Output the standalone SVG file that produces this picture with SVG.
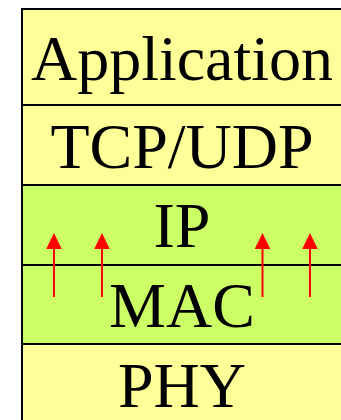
<svg xmlns="http://www.w3.org/2000/svg" width="341" height="420" viewBox="0 0 341 420">
  <style>
    .layer { stroke: #000; stroke-width: 2; }
    .upper { fill: #FFFF99; }
    .lower { fill: #CCFF66; }
    .label { font-family: "Liberation Serif", "Times New Roman", serif; font-size: 64px; fill: #000; text-anchor: middle; }
    .flow { stroke: #FF0000; stroke-width: 2; fill: none; marker-end: url(#head); }
  </style>
  <defs>
    <!-- filled triangle head, base sits on the line end -->
    <marker id="head" viewBox="0 -8 16 16" refX="0" refY="0" markerWidth="16" markerHeight="16" markerUnits="userSpaceOnUse" orient="auto" overflow="visible">
      <polygon fill="#FF0000" points="0,-7.8 16,0 0,7.8"/>
    </marker>
  </defs>

  <!-- protocol stack layers -->
  <g id="application">
    <rect class="layer upper" x="22" y="9" width="330" height="96"/>
    <text class="label" x="182" y="80">Application</text>
  </g>
  <g id="transport">
    <rect class="layer upper" x="22" y="105" width="330" height="80"/>
    <text class="label" x="182" y="168">TCP/UDP</text>
  </g>
  <g id="ip">
    <rect class="layer lower" x="22" y="185" width="330" height="80"/>
    <text class="label" x="182" y="247">IP</text>
  </g>
  <g id="mac">
    <rect class="layer lower" x="22" y="265" width="330" height="79"/>
    <text class="label" x="182" y="327">MAC</text>
  </g>
  <g id="phy">
    <rect class="layer upper" x="22" y="344" width="330" height="90"/>
    <text class="label" x="182" y="407">PHY</text>
  </g>

  <!-- upward flows from MAC into IP -->
  <g id="connectors">
    <line class="flow" x1="54" y1="297" x2="54" y2="249"/>
    <line class="flow" x1="102" y1="297" x2="102" y2="249"/>
    <line class="flow" x1="262.5" y1="297" x2="262.5" y2="249"/>
    <line class="flow" x1="310" y1="297" x2="310" y2="249"/>
  </g>
</svg>
